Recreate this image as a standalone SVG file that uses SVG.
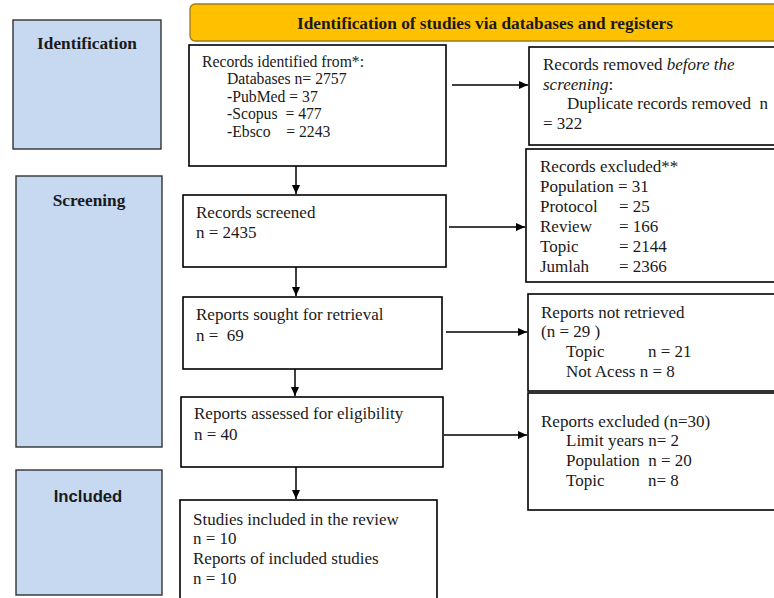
<svg xmlns="http://www.w3.org/2000/svg" width="774" height="598" viewBox="0 0 774 598">
<style>
.box{fill:#fff;stroke:#000;stroke-width:1.6}
.side{fill:#C6D9F1;stroke:#333;stroke-width:1.4}
.t{font-family:"Liberation Serif",serif;font-size:17px;fill:#1a1a1a}
.ts{font-family:"Liberation Serif",serif;font-size:15.7px;fill:#1a1a1a}
.hb{font-family:"Liberation Serif",serif;font-size:17.3px;font-weight:bold;fill:#1a1a1a}
.sb{font-family:"Liberation Sans",sans-serif;font-size:16.7px;font-weight:bold;fill:#1a1a1a}
.c{stroke:#000;stroke-width:1.5;fill:none;marker-end:url(#ah)}
</style>
<defs>
<marker id="ah" markerWidth="10" markerHeight="10" refX="9" refY="5" orient="auto" markerUnits="userSpaceOnUse">
<path d="M0,1 L9,5 L0,9 Z" fill="#000"/>
</marker>
</defs>
<rect width="774" height="598" fill="#fff"/>
<g id="side-identification"><rect class="side" x="13" y="20" width="148" height="129"/><text class="hb" x="87" y="49" text-anchor="middle">Identification</text></g>
<g id="side-screening"><rect class="side" x="16" y="176" width="146" height="271"/><text class="hb" x="89" y="206" text-anchor="middle">Screening</text></g>
<g id="side-included"><rect class="side" x="16" y="470" width="146" height="125"/><text class="sb" x="88" y="502" text-anchor="middle">Included</text></g>
<g id="header"><rect x="190" y="4" width="600" height="37" rx="5" fill="#FFC000" stroke="#9c7c1c" stroke-width="1.3"/><text class="hb" x="485" y="29" text-anchor="middle">Identification of studies via databases and registers</text></g>
<g id="identified"><rect class="box" x="189" y="45" width="257" height="121"/>
<text class="ts" x="202" y="67">Records identified from*:</text>
<text class="ts" x="227" y="84">Databases n= 2757</text>
<text class="ts" x="227" y="102">-PubMed = 37</text>
<text class="ts" x="227" y="119" xml:space="preserve">-Scopus  = 477</text>
<text class="ts" x="227" y="137" xml:space="preserve">-Ebsco    = 2243</text></g>
<g id="removed"><rect class="box" x="529" y="47" width="260" height="98"/>
<text class="t" x="543" y="70">Records removed <tspan font-style="italic">before the</tspan></text>
<text class="t" x="543" y="90"><tspan font-style="italic">screening</tspan>:</text>
<text class="t" x="567" y="109" xml:space="preserve">Duplicate records removed  n</text>
<text class="t" x="543" y="129">= 322</text></g>
<g id="screened"><rect class="box" x="183" y="195" width="263" height="72"/>
<text class="t" x="196" y="218">Records screened</text>
<text class="t" x="196" y="238">n = 2435</text></g>
<g id="excluded"><rect class="box" x="526" y="149" width="260" height="133"/>
<text class="t" x="540" y="172">Records excluded**</text>
<text class="t" x="540" y="192">Population = 31</text>
<text class="t" x="540" y="212">Protocol</text><text class="t" x="619" y="212">= 25</text>
<text class="t" x="540" y="232">Review</text><text class="t" x="619" y="232">= 166</text>
<text class="t" x="540" y="252">Topic</text><text class="t" x="619" y="252">= 2144</text>
<text class="t" x="540" y="272">Jumlah</text><text class="t" x="619" y="272">= 2366</text></g>
<g id="sought"><rect class="box" x="183" y="297" width="259" height="72"/>
<text class="t" x="196" y="320">Reports sought for retrieval</text>
<text class="t" x="196" y="341" xml:space="preserve">n =  69</text></g>
<g id="not-retrieved"><rect class="box" x="528" y="294" width="260" height="97"/>
<text class="t" x="541" y="318">Reports not retrieved</text>
<text class="t" x="541" y="337">(n = 29 )</text>
<text class="t" x="566" y="357">Topic</text><text class="t" x="648" y="357">n = 21</text>
<text class="t" x="566" y="377">Not Acess n = 8</text></g>
<g id="assessed"><rect class="box" x="181" y="397" width="262" height="70"/>
<text class="t" x="194" y="419">Reports assessed for eligibility</text>
<text class="t" x="194" y="440">n = 40</text></g>
<g id="reports-excluded"><rect class="box" x="528" y="393" width="260" height="117"/>
<text class="t" x="541" y="427">Reports excluded (n=30)</text>
<text class="t" x="566" y="446">Limit years n= 2</text>
<text class="t" x="566" y="466" xml:space="preserve">Population  n = 20</text>
<text class="t" x="566" y="486">Topic</text><text class="t" x="648" y="486">n= 8</text></g>
<g id="included"><rect class="box" x="180" y="500" width="257" height="110"/>
<text class="t" x="193" y="525">Studies included in the review</text>
<text class="t" x="193" y="544">n = 10</text>
<text class="t" x="193" y="564">Reports of included studies</text>
<text class="t" x="193" y="584">n = 10</text></g>
<g id="connectors">
<line class="c" x1="452" y1="85" x2="528" y2="85"/>
<line class="c" x1="296" y1="166" x2="296" y2="194"/>
<line class="c" x1="449" y1="227" x2="525" y2="227"/>
<line class="c" x1="296" y1="267" x2="296" y2="296"/>
<line class="c" x1="446" y1="332" x2="527" y2="332"/>
<line class="c" x1="295" y1="369" x2="295" y2="396"/>
<line class="c" x1="444" y1="435" x2="527" y2="435"/>
<line class="c" x1="296" y1="467" x2="296" y2="499"/>
</g>
</svg>
